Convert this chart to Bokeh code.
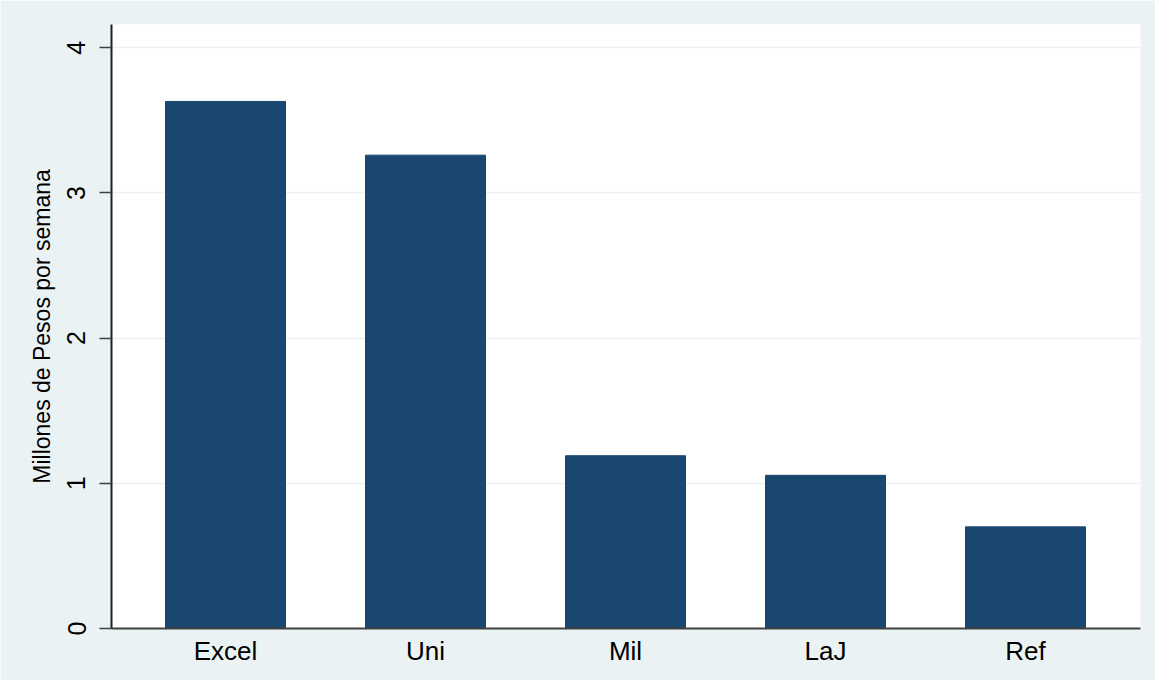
from bokeh.plotting import figure
from bokeh.models import ColumnDataSource, FixedTicker, Range1d
from bokeh.embed import file_html
from bokeh.resources import INLINE

categories = ["Excel", "Uni", "Mil", "LaJ", "Ref"]
values = [3.63, 3.26, 1.19, 1.055, 0.70]
y_ticks = [0, 1, 2, 3, 4]

xs = list(range(1, len(categories) + 1))
src = ColumnDataSource(dict(x=xs, top=values, cat=categories))

BG = "#EAF2F3"
BAR = "#1A476F"

p = figure(width=1155, height=680, output_backend="svg", toolbar_location=None,
           x_range=Range1d(0.43, 5.575), y_range=Range1d(0, 4.16),
           background_fill_color="white", border_fill_color=BG,
           min_border_left=111, min_border_top=24, min_border_right=15,
           min_border_bottom=52)
p.outline_line_color = None

p.vbar(x="x", top="top", width=0.6, bottom=0, source=src,
       fill_color=BAR, line_color=BAR)

# x axis
p.xaxis.ticker = FixedTicker(ticks=xs)
p.xaxis.major_label_overrides = {i: c for i, c in zip(xs, categories)}
p.xaxis.major_tick_line_color = None
p.xaxis.minor_tick_line_color = None
p.xaxis.major_tick_out = 0
p.xaxis.major_tick_in = 0
p.xaxis.major_label_text_font = "Liberation Sans"
p.xaxis.major_label_text_font_size = "26px"
p.xaxis.major_label_text_color = "black"
p.xaxis.major_label_standoff = 7
p.xaxis.axis_line_color = "#404040"
p.xaxis.axis_line_width = 2

# y axis
p.yaxis.ticker = FixedTicker(ticks=y_ticks)
p.yaxis.minor_tick_line_color = None
p.yaxis.major_tick_out = 12
p.yaxis.major_tick_in = 0
p.yaxis.major_tick_line_color = "#404040"
p.yaxis.major_tick_line_width = 1.5
p.yaxis.major_label_orientation = "vertical"
p.yaxis.major_label_text_font = "Liberation Sans"
p.yaxis.major_label_text_font_size = "25px"
p.yaxis.major_label_text_color = "black"
p.yaxis.major_label_standoff = 14
p.yaxis.axis_line_color = "#202020"
p.yaxis.axis_line_width = 2
p.yaxis.axis_label = "Millones de Pesos por semana"
p.yaxis.axis_label_text_font = "Liberation Sans"
p.yaxis.axis_label_text_font_size = "23px"
p.yaxis.axis_label_text_font_style = "normal"
p.yaxis.axis_label_text_color = "black"
p.yaxis.axis_label_standoff = 10

p.xgrid.grid_line_color = None
p.ygrid.grid_line_color = BG
p.ygrid.grid_line_width = 1.5

open("out.html", "w").write(file_html(p, INLINE))
